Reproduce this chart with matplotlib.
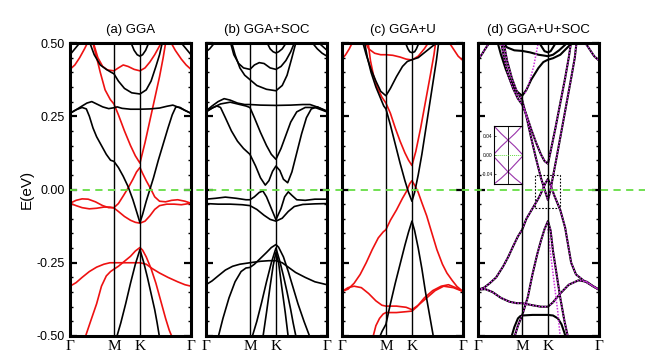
import matplotlib.pyplot as plt
import matplotlib.transforms as mtransforms
from matplotlib.lines import Line2D
from matplotlib.patches import Rectangle
from matplotlib.ticker import MultipleLocator

plt.rcParams['font.family'] = ['Liberation Sans', 'DejaVu Sans']
plt.rcParams['axes.unicode_minus'] = False

# k-path (fraction of the Gamma-M-K-Gamma path)
kticks = [0, 0.363, 0.578, 1]
klabels = ['Γ', 'M', 'K', 'Γ']
ylabels_e = [-0.50, -0.25, 0.00, 0.25, 0.50]
titles = ['(a) GGA', '(b) GGA+SOC', '(c) GGA+U', '(d) GGA+U+SOC']

# ---- (a) GGA : red = spin up, black = spin down ----
a_red1 = [(0, 0.41), (0.04, 0.425), (0.08, 0.45), (0.12, 0.48), (0.15, 0.505), (0.17, 0.515), (0.19, 0.50),
          (0.22, 0.45), (0.25, 0.40), (0.29, 0.34), (0.333, 0.307), (0.363, 0.292), (0.40, 0.255), (0.45, 0.20),
          (0.50, 0.15), (0.54, 0.115), (0.578, 0.09), (0.62, 0.16), (0.66, 0.235), (0.70, 0.31), (0.74, 0.385),
          (0.77, 0.45), (0.79, 0.50), (0.81, 0.515), (0.83, 0.505), (0.87, 0.475), (0.92, 0.445), (0.96, 0.425), (1, 0.41)]
a_red2 = [(0.19, 0.505), (0.23, 0.45), (0.27, 0.42), (0.31, 0.408), (0.363, 0.405), (0.40, 0.415), (0.44, 0.425),
          (0.48, 0.42), (0.53, 0.41), (0.578, 0.405), (0.62, 0.415), (0.66, 0.435), (0.70, 0.46), (0.74, 0.49), (0.76, 0.505)]
a_red3 = [(0, -0.047), (0.05, -0.037), (0.10, -0.032), (0.15, -0.033), (0.21, -0.042), (0.27, -0.055), (0.32, -0.062),
          (0.363, -0.062), (0.40, -0.048), (0.44, -0.022), (0.48, 0.005), (0.52, 0.035), (0.55, 0.06), (0.578, 0.075),
          (0.60, 0.055), (0.63, 0.03), (0.67, 0.0), (0.70, -0.025), (0.74, -0.04), (0.79, -0.042), (0.84, -0.037),
          (0.89, -0.035), (0.95, -0.04), (1, -0.047)]
a_red4 = [(0, -0.047), (0.05, -0.055), (0.10, -0.062), (0.16, -0.066), (0.22, -0.064), (0.28, -0.06), (0.33, -0.06),
          (0.363, -0.063), (0.40, -0.075), (0.45, -0.092), (0.50, -0.105), (0.54, -0.112), (0.578, -0.115),
          (0.62, -0.108), (0.66, -0.09), (0.70, -0.068), (0.74, -0.055), (0.80, -0.05), (0.86, -0.05),
          (0.92, -0.052), (1, -0.047)]
a_red5 = [(0, -0.33), (0.05, -0.318), (0.10, -0.30), (0.16, -0.28), (0.22, -0.265), (0.28, -0.255), (0.33, -0.25),
          (0.363, -0.25), (0.45, -0.25), (0.52, -0.25), (0.58, -0.25), (0.63, -0.255), (0.68, -0.27), (0.74, -0.285),
          (0.81, -0.30), (0.89, -0.315), (0.95, -0.325), (1, -0.33)]
a_red6 = [(0.125, -0.505), (0.17, -0.45), (0.22, -0.39), (0.26, -0.33), (0.30, -0.295), (0.335, -0.28), (0.363, -0.272),
          (0.40, -0.262), (0.45, -0.245), (0.50, -0.228), (0.54, -0.21), (0.578, -0.198), (0.60, -0.207), (0.63, -0.23),
          (0.67, -0.27), (0.71, -0.32), (0.75, -0.38), (0.79, -0.44), (0.82, -0.48), (0.845, -0.505)]
a_blk1 = [(0, 0.46), (0.03, 0.475), (0.06, 0.49), (0.09, 0.505)]
a_blk2 = [(0.91, 0.505), (0.94, 0.49), (0.97, 0.475), (1, 0.46)]
a_blk3 = [(0.16, 0.505), (0.20, 0.46), (0.25, 0.425), (0.30, 0.41), (0.34, 0.40), (0.363, 0.395), (0.40, 0.37),
          (0.45, 0.345), (0.51, 0.33), (0.578, 0.326), (0.63, 0.34), (0.67, 0.37), (0.71, 0.42), (0.74, 0.46), (0.765, 0.505)]
a_blk4 = [(0.50, 0.505), (0.53, 0.475), (0.555, 0.46), (0.578, 0.455), (0.60, 0.46), (0.625, 0.475), (0.655, 0.505)]
a_blk5 = [(0, 0.26), (0.05, 0.272), (0.10, 0.285), (0.14, 0.295), (0.18, 0.30), (0.22, 0.292), (0.27, 0.282),
          (0.32, 0.276), (0.363, 0.279), (0.39, 0.282), (0.43, 0.277), (0.50, 0.274), (0.578, 0.274), (0.66, 0.275),
          (0.74, 0.278), (0.80, 0.284), (0.85, 0.288), (0.90, 0.28), (0.95, 0.27), (1, 0.26)]
a_blk6 = [(0, 0.26), (0.05, 0.272), (0.10, 0.28), (0.135, 0.275), (0.16, 0.25), (0.19, 0.21), (0.22, 0.18), (0.26, 0.15),
          (0.30, 0.12), (0.335, 0.10), (0.363, 0.096), (0.40, 0.075), (0.44, 0.045), (0.48, 0.01), (0.52, -0.035),
          (0.55, -0.075), (0.578, -0.113), (0.60, -0.085), (0.63, -0.04), (0.66, 0.0), (0.69, 0.04), (0.73, 0.10),
          (0.77, 0.155), (0.81, 0.21), (0.845, 0.255), (0.875, 0.282), (0.91, 0.28), (0.95, 0.27), (1, 0.26)]
a_blk7 = [(0.385, -0.505), (0.42, -0.455), (0.46, -0.39), (0.50, -0.32), (0.54, -0.255), (0.578, -0.205), (0.61, -0.25),
          (0.64, -0.30), (0.67, -0.355), (0.70, -0.41), (0.72, -0.455), (0.74, -0.505)]

# ---- (b) GGA+SOC ----
b1 = [(0, 0.47), (0.03, 0.48), (0.06, 0.495), (0.08, 0.505)]
b2 = [(0.87, 0.505), (0.92, 0.48), (0.96, 0.465), (1, 0.455)]
b3 = [(0.92, 0.505), (0.96, 0.49), (1, 0.475)]
b4 = [(0.20, 0.505), (0.23, 0.46), (0.27, 0.43), (0.31, 0.415), (0.363, 0.41), (0.40, 0.425), (0.44, 0.433),
      (0.48, 0.43), (0.53, 0.415), (0.578, 0.41), (0.62, 0.42), (0.66, 0.44), (0.70, 0.47), (0.735, 0.505)]
b5 = [(0.21, 0.505), (0.24, 0.46), (0.28, 0.415), (0.32, 0.39), (0.363, 0.375), (0.42, 0.355), (0.50, 0.342),
      (0.578, 0.337), (0.63, 0.355), (0.67, 0.39), (0.71, 0.45), (0.745, 0.505)]
b6 = [(0.50, 0.505), (0.53, 0.48), (0.555, 0.47), (0.578, 0.466), (0.60, 0.47), (0.63, 0.48), (0.67, 0.505)]
b7 = [(0, 0.268), (0.05, 0.285), (0.10, 0.30), (0.15, 0.31), (0.20, 0.305), (0.26, 0.295), (0.32, 0.29),
      (0.363, 0.29), (0.45, 0.288), (0.578, 0.287), (0.70, 0.288), (0.80, 0.29), (0.86, 0.29), (0.93, 0.28), (1, 0.268)]
b8 = [(0, 0.265), (0.06, 0.28), (0.12, 0.292), (0.20, 0.298), (0.28, 0.29), (0.33, 0.285), (0.363, 0.28),
      (0.40, 0.245), (0.45, 0.195), (0.50, 0.15), (0.54, 0.12), (0.578, 0.103), (0.62, 0.14), (0.66, 0.185),
      (0.70, 0.23), (0.75, 0.265), (0.82, 0.28), (0.90, 0.28), (1, 0.265)]
b9 = [(0, 0.265), (0.05, 0.278), (0.09, 0.285), (0.12, 0.28), (0.16, 0.245), (0.21, 0.20), (0.26, 0.165),
      (0.31, 0.14), (0.363, 0.12), (0.41, 0.08), (0.45, 0.04), (0.49, 0.015), (0.52, 0.03), (0.55, 0.062),
      (0.578, 0.08), (0.61, 0.065), (0.64, 0.035), (0.675, 0.023), (0.71, 0.06), (0.75, 0.125), (0.79, 0.19),
      (0.83, 0.245), (0.87, 0.275), (0.92, 0.282), (1, 0.265)]
b10 = [(0, -0.033), (0.08, -0.03), (0.16, -0.026), (0.25, -0.03), (0.33, -0.035), (0.363, -0.035), (0.40, -0.025),
       (0.44, -0.01), (0.47, -0.005), (0.50, -0.025), (0.53, -0.055), (0.578, -0.103), (0.62, -0.065),
       (0.65, -0.025), (0.68, -0.008), (0.71, -0.02), (0.75, -0.035), (0.82, -0.037), (0.90, -0.033), (1, -0.033)]
b11 = [(0, -0.048), (0.1, -0.05), (0.2, -0.05), (0.3, -0.052), (0.363, -0.055), (0.42, -0.068), (0.48, -0.088),
       (0.53, -0.102), (0.578, -0.108), (0.63, -0.098), (0.68, -0.075), (0.73, -0.058), (0.8, -0.051),
       (0.9, -0.049), (1, -0.048)]
b12 = [(0, -0.325), (0.05, -0.312), (0.10, -0.295), (0.16, -0.275), (0.22, -0.262), (0.28, -0.255), (0.363, -0.25),
       (0.45, -0.245), (0.52, -0.243), (0.578, -0.243), (0.63, -0.25), (0.68, -0.265), (0.74, -0.283),
       (0.82, -0.30), (0.90, -0.315), (1, -0.325)]
b13 = [(0.10, -0.505), (0.14, -0.44), (0.19, -0.37), (0.24, -0.315), (0.29, -0.28), (0.33, -0.268), (0.363, -0.266),
       (0.40, -0.255), (0.45, -0.235), (0.50, -0.215), (0.54, -0.198), (0.578, -0.188), (0.60, -0.197),
       (0.64, -0.23), (0.68, -0.28), (0.72, -0.335), (0.76, -0.39), (0.81, -0.45), (0.86, -0.505)]
b14 = [(0.38, -0.505), (0.42, -0.45), (0.46, -0.385), (0.50, -0.315), (0.54, -0.25), (0.578, -0.2), (0.61, -0.245),
       (0.64, -0.295), (0.67, -0.35), (0.70, -0.41), (0.72, -0.455), (0.745, -0.505)]
b15 = [(0.47, -0.505), (0.50, -0.42), (0.53, -0.33), (0.555, -0.26), (0.578, -0.215), (0.60, -0.25), (0.625, -0.33),
       (0.655, -0.42), (0.68, -0.505)]

# ---- (c) GGA+U ----
c_red1 = [(0, 0.445), (0.03, 0.46), (0.06, 0.48), (0.09, 0.505)]
c_red2 = [(0.88, 0.505), (0.92, 0.48), (0.96, 0.455), (1, 0.44)]
c_red3 = [(0.19, 0.505), (0.22, 0.48), (0.27, 0.465), (0.32, 0.46), (0.363, 0.46), (0.42, 0.458), (0.48, 0.452),
          (0.53, 0.445), (0.578, 0.442), (0.63, 0.455), (0.68, 0.48), (0.72, 0.505)]
c_red4 = [(0.215, 0.505), (0.235, 0.44), (0.26, 0.39), (0.29, 0.35), (0.33, 0.315), (0.363, 0.295), (0.40, 0.26),
          (0.44, 0.21), (0.48, 0.165), (0.52, 0.125), (0.55, 0.10), (0.578, 0.082), (0.61, 0.13), (0.65, 0.21),
          (0.69, 0.30), (0.73, 0.39), (0.76, 0.46), (0.775, 0.505)]
c_red5 = [(0, -0.348), (0.05, -0.34), (0.10, -0.32), (0.15, -0.29), (0.20, -0.25), (0.25, -0.205), (0.30, -0.165),
          (0.34, -0.145), (0.363, -0.137), (0.40, -0.105), (0.45, -0.07), (0.50, -0.03), (0.535, -0.005),
          (0.56, 0.02), (0.578, 0.03), (0.60, 0.015), (0.63, -0.01), (0.66, -0.045), (0.70, -0.09), (0.74, -0.145),
          (0.784, -0.205), (0.83, -0.255), (0.867, -0.285), (0.91, -0.31), (0.95, -0.331), (1, -0.348)]
c_red6 = [(0, -0.348), (0.05, -0.335), (0.10, -0.33), (0.16, -0.335), (0.22, -0.355), (0.28, -0.38), (0.33, -0.395),
          (0.363, -0.398), (0.45, -0.398), (0.53, -0.402), (0.578, -0.41), (0.63, -0.395), (0.70, -0.37),
          (0.77, -0.345), (0.84, -0.33), (0.92, -0.335), (1, -0.348)]
c_red7 = [(0.255, -0.505), (0.28, -0.465), (0.31, -0.44), (0.34, -0.425), (0.363, -0.42), (0.45, -0.42),
          (0.53, -0.417), (0.578, -0.415), (0.62, -0.40), (0.68, -0.37), (0.75, -0.345), (0.82, -0.33),
          (0.88, -0.325), (0.94, -0.335), (1, -0.348)]
c_blk1 = [(0.17, 0.505), (0.20, 0.46), (0.24, 0.41), (0.28, 0.37), (0.32, 0.335), (0.363, 0.32), (0.40, 0.345),
          (0.45, 0.385), (0.50, 0.42), (0.54, 0.437), (0.578, 0.443), (0.63, 0.45), (0.69, 0.47), (0.75, 0.49), (0.80, 0.505)]
c_blk2 = [(0.52, 0.505), (0.545, 0.48), (0.56, 0.47), (0.578, 0.467), (0.60, 0.47), (0.615, 0.48), (0.64, 0.505)]
c_blk3 = [(0.185, 0.505), (0.21, 0.45), (0.24, 0.40), (0.28, 0.35), (0.32, 0.31), (0.345, 0.285), (0.363, 0.275),
          (0.40, 0.22), (0.44, 0.155), (0.48, 0.09), (0.52, 0.03), (0.55, -0.01), (0.578, -0.04), (0.60, -0.01),
          (0.63, 0.05), (0.66, 0.12), (0.69, 0.20), (0.72, 0.28), (0.75, 0.36), (0.78, 0.44), (0.80, 0.505)]
c_blk4 = [(0.31, -0.505), (0.33, -0.485), (0.35, -0.47), (0.363, -0.46), (0.40, -0.39), (0.44, -0.32), (0.48, -0.255),
          (0.52, -0.19), (0.55, -0.145), (0.578, -0.108), (0.60, -0.14), (0.63, -0.2), (0.66, -0.27), (0.69, -0.35),
          (0.72, -0.42), (0.75, -0.49), (0.756, -0.505)]

# ---- (d) GGA+U+SOC : black lines, magenta dotted overlay ----
d1 = [(0, 0.445), (0.03, 0.46), (0.06, 0.48), (0.10, 0.505)]
d2 = [(0.88, 0.505), (0.92, 0.48), (0.96, 0.455), (1, 0.44)]
d3 = [(0.20, 0.505), (0.24, 0.485), (0.30, 0.475), (0.365, 0.473), (0.43, 0.468), (0.50, 0.46), (0.578, 0.455),
      (0.62, 0.46), (0.67, 0.475), (0.71, 0.49), (0.75, 0.505)]
d4 = [(0.50, 0.505), (0.53, 0.485), (0.55, 0.472), (0.578, 0.468), (0.60, 0.472), (0.62, 0.485), (0.65, 0.505)]
d5 = [(0.16, 0.505), (0.19, 0.46), (0.23, 0.41), (0.27, 0.37), (0.32, 0.335), (0.365, 0.32), (0.40, 0.34),
      (0.44, 0.375), (0.50, 0.415), (0.54, 0.435), (0.578, 0.443), (0.62, 0.448), (0.68, 0.46), (0.74, 0.485), (0.79, 0.505)]
d6 = [(0.19, 0.505), (0.22, 0.44), (0.25, 0.39), (0.29, 0.345), (0.33, 0.31), (0.365, 0.29), (0.40, 0.255),
      (0.44, 0.205), (0.48, 0.16), (0.52, 0.12), (0.55, 0.097), (0.578, 0.088), (0.60, 0.13), (0.64, 0.21),
      (0.68, 0.295), (0.72, 0.38), (0.75, 0.45), (0.77, 0.505)]
d7 = [(0.21, 0.505), (0.24, 0.44), (0.28, 0.38), (0.32, 0.335), (0.365, 0.305), (0.40, 0.25), (0.44, 0.175),
      (0.48, 0.105), (0.52, 0.04), (0.55, 0.0), (0.578, -0.036), (0.60, 0.0), (0.62, 0.045), (0.65, 0.11),
      (0.69, 0.20), (0.73, 0.29), (0.77, 0.38), (0.80, 0.45), (0.815, 0.505)]
d8 = [(0, -0.342), (0.05, -0.335), (0.097, -0.32), (0.15, -0.30), (0.207, -0.263), (0.25, -0.23), (0.29, -0.194),
      (0.33, -0.16), (0.365, -0.137), (0.40, -0.1), (0.45, -0.065), (0.50, -0.03), (0.535, 0.0), (0.555, 0.02),
      (0.578, 0.036), (0.60, 0.015), (0.63, -0.02), (0.68, -0.07), (0.72, -0.13), (0.77, -0.25), (0.81, -0.29),
      (0.87, -0.31), (0.93, -0.325), (1, -0.342)]
d9 = [(0.30, -0.505), (0.33, -0.465), (0.365, -0.43), (0.413, -0.365), (0.45, -0.29), (0.49, -0.22), (0.52, -0.175),
      (0.55, -0.135), (0.578, -0.108), (0.60, -0.14), (0.62, -0.21), (0.65, -0.29), (0.68, -0.37), (0.715, -0.45),
      (0.744, -0.505)]
d10 = [(0, -0.342), (0.06, -0.34), (0.12, -0.35), (0.19, -0.37), (0.26, -0.383), (0.32, -0.388), (0.365, -0.388),
       (0.45, -0.395), (0.52, -0.40), (0.578, -0.40), (0.62, -0.385), (0.68, -0.355), (0.75, -0.325),
       (0.83, -0.31), (0.90, -0.315), (0.95, -0.33), (1, -0.342)]
d11 = [(0.275, -0.505), (0.30, -0.47), (0.33, -0.44), (0.35, -0.432), (0.365, -0.43), (0.45, -0.428),
       (0.52, -0.428), (0.578, -0.428), (0.62, -0.43), (0.66, -0.44), (0.69, -0.46), (0.715, -0.49), (0.725, -0.505)]
d12 = [(0.50, 0.505), (0.46, 0.42), (0.42, 0.36), (0.385, 0.325)]
d13 = [(0.578, -0.135), (0.60, -0.22), (0.63, -0.32), (0.66, -0.42), (0.68, -0.505)]

# inset of (d): zoom around K near the Fermi level
ins_k = [-1, -0.5, 0, 0.5, 1]
ins_up_v = [0.062, 0.046, 0.032, 0.046, 0.062]
ins_up_l = [0.002, 0.018, 0.032, 0.018, 0.002]
ins_dn_v = [-0.004, -0.02, -0.036, -0.02, -0.004]
ins_dn_l = [-0.062, -0.05, -0.036, -0.05, -0.062]
ins_ticks = [0.04, 0.00, -0.04]
box_k = [0.47, 0.677]
box_e = [-0.063, 0.051]

panel_red = [[a_red1, a_red2, a_red3, a_red4, a_red5, a_red6], [], [c_red1, c_red2, c_red3, c_red4, c_red5, c_red6, c_red7], []]
panel_blk = [[a_blk1, a_blk2, a_blk3, a_blk4, a_blk5, a_blk6, a_blk7],
             [b1, b2, b3, b4, b5, b6, b7, b8, b9, b10, b11, b12, b13, b14, b15],
             [c_blk1, c_blk2, c_blk3, c_blk4],
             [d1, d2, d3, d4, d5, d6, d7, d8, d9, d10, d11]]
d_dotted = [d1, d2, d6, d7, d8, d9, d10, d12, d13]

RED = '#ee1111'
GREEN = '#66dd44'
PURPLE = '#cc33dd'

fig = plt.figure(figsize=(6.5, 3.6), dpi=100)
lefts = [70, 206, 342, 478]
axes = []
for i, lx in enumerate(lefts):
    ax = fig.add_axes([lx / 650, 24 / 360, 121 / 650, 293 / 360])
    axes.append(ax)
    for band in panel_red[i]:
        ax.plot([p[0] for p in band], [p[1] for p in band], color=RED, lw=1.2)
    for band in panel_blk[i]:
        ax.plot([p[0] for p in band], [p[1] for p in band], color='black', lw=1.5 if i == 3 else 1.2)
    if i == 3:
        for band in d_dotted:
            ax.plot([p[0] for p in band], [p[1] for p in band], color=PURPLE, lw=1.1, ls=(0, (1, 1)))
        ax.add_patch(Rectangle((box_k[0], box_e[0]), box_k[1] - box_k[0], box_e[1] - box_e[0],
                               fill=False, ls=(0, (1.5, 1.5)), lw=0.8, ec='black'))
    for kx in kticks[1:3]:
        ax.axvline(kx, color='black', lw=1.0)
    ax.set_xlim(0, 1)
    ax.set_ylim(-0.5, 0.5)
    ax.set_xticks(kticks)
    ax.set_xticklabels(klabels, family=['Liberation Serif', 'DejaVu Serif'], fontsize=11)
    ax.tick_params(axis='x', length=0, pad=3)
    ax.set_yticks(ylabels_e)
    ax.yaxis.set_minor_locator(MultipleLocator(0.05))
    ax.tick_params(axis='y', which='both', direction='in', left=True, right=True)
    ax.tick_params(axis='y', which='major', length=5, width=1.6)
    ax.tick_params(axis='y', which='minor', length=2.5, width=1.0)
    if i == 0:
        ax.set_yticklabels(['%.2f' % v for v in ylabels_e], fontsize=9)
        ax.set_ylabel('E(eV)', fontsize=11, labelpad=2)
    else:
        ax.set_yticklabels([])
    for sp in ax.spines.values():
        sp.set_linewidth(2.2)
    ax.set_title(titles[i], fontsize=9.5, pad=7)

# Fermi level, dashed across all panels
trans = mtransforms.blended_transform_factory(fig.transFigure, axes[0].transData)
fig.add_artist(Line2D([70 / 650, 645 / 650], [0, 0], transform=trans, color=GREEN, lw=1.3, ls=(0, (4, 3)), zorder=5))

# inset
axi = fig.add_axes([494 / 650, (360 - 184) / 360, 28 / 650, 58 / 360])
for e in [ins_up_v, ins_up_l, ins_dn_v, ins_dn_l]:
    axi.plot(ins_k, e, color='#9933aa', lw=0.8)
axi.axvline(0, color='black', lw=0.6)
axi.axhline(0, color=GREEN, lw=0.7, ls=(0, (1, 1)))
axi.set_xlim(-1, 1)
axi.set_ylim(-0.062, 0.062)
axi.set_xticks([])
axi.set_yticks(ins_ticks)
axi.set_yticklabels(['%.2f' % v for v in ins_ticks], fontsize=3.5)
axi.tick_params(axis='y', direction='in', length=1.5, width=0.5, pad=1)
for sp in axi.spines.values():
    sp.set_linewidth(0.8)

fig.savefig('out.png', dpi=100)
